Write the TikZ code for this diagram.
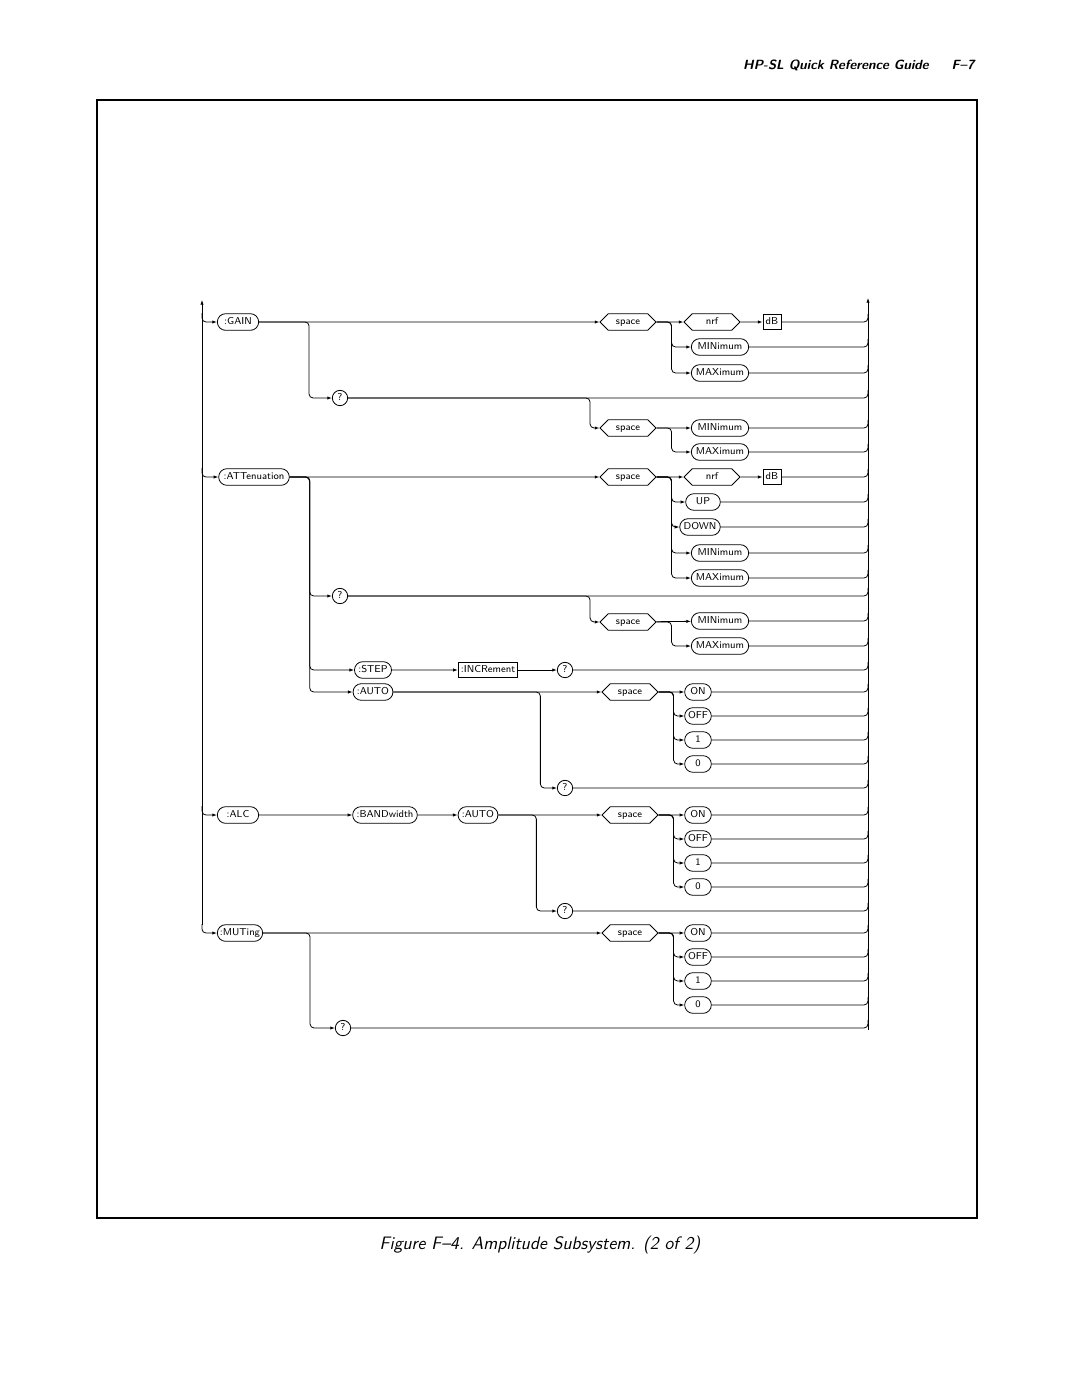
\documentclass[tikz,border=0pt]{standalone}
\usepackage{tikz}
\usetikzlibrary{arrows.meta, positioning, shapes.misc, shapes.symbols}

\begin{document}
\begin{tikzpicture}[x=0.75pt,y=-0.75pt,>={Latex[length=3.5pt,width=2.5pt]},
  font=\fontsize{7.5}{8}\sffamily]
\tikzstyle{every path}=[semithick]
\tikzstyle{every node}=[text height=5.2pt,text depth=1.3pt]
\tikzstyle{kw}=[rounded rectangle,draw,minimum height=12.5pt,inner sep=2pt]
\tikzstyle{sp}=[signal,signal to=west and east,draw,minimum height=12.5pt,
  minimum width=42pt,inner sep=2pt]
\tikzstyle{bx}=[rectangle,draw,minimum height=11.5pt,inner sep=2pt]
\tikzstyle{qm}=[circle,draw,inner sep=0.8pt,minimum size=11.5pt]
\tikzstyle{rc}=[rounded corners=3pt]

\useasboundingbox (0,0) rectangle (1080,1397);

%% Page frame and titles
\draw[line width=1pt] (97,100) rectangle (977,1218);
\node[font=\bfseries\itshape\fontsize{10}{11}\sffamily] (title) at (836,67) {HP-SL Quick Reference Guide};
\node[font=\bfseries\itshape\fontsize{10}{11}\sffamily] (page) at (963,67) {F--7};
\node[font=\itshape\fontsize{13.5}{15}\sffamily] (caption) at (540,1247) {Figure F--4. Amplitude Subsystem. (2 of 2)};

%% Rails
\coordinate (rr) at (868,0);
\coordinate (lr) at (202,0);
\draw[->] (202,925) -- (202,300);
\draw[->] (868,1030) -- (868,298);

%% :GAIN
\node[kw,minimum width=35pt] (gain) at (238,322) {:GAIN};
\node[sp] (gsp) at (628,322) {space};
\node[sp] (gnrf) at (712,322) {nrf};
\node[bx] (gdb) at (772,322) {dB};
\node[kw,minimum width=47pt] (gmin) at (720,347) {MINimum};
\node[kw,minimum width=47pt] (gmax) at (720,373) {MAXimum};
\node[qm] (gq) at (340,398) {?};
\node[sp] (gqsp) at (628,428) {space};
\node[kw,minimum width=47pt] (gqmin) at (720,428) {MINimum};
\node[kw,minimum width=47pt] (gqmax) at (720,452) {MAXimum};

%% :ATTenuation
\node[kw,minimum width=57pt] (att) at (254,477) {:ATTenuation};
\node[sp] (asp) at (628,477) {space};
\node[sp] (anrf) at (712,477) {nrf};
\node[bx] (adb) at (772,477) {dB};
\node[kw,minimum width=30pt] (aup) at (703,502) {UP};
\node[kw] (adown) at (700,527) {DOWN};
\node[kw,minimum width=47pt] (amin) at (720,553) {MINimum};
\node[kw,minimum width=47pt] (amax) at (720,578) {MAXimum};
\node[qm] (aq) at (340,596) {?};
\node[sp] (aqsp) at (628,622) {space};
\node[kw,minimum width=47pt] (aqmin) at (720,621) {MINimum};
\node[kw,minimum width=47pt] (aqmax) at (720,646) {MAXimum};
\node[kw] (step) at (373,670) {:STEP};
\node[bx] (incr) at (488,670) {:INCRement};
\node[qm] (sq) at (565,670) {?};
\node[kw] (auto) at (373,692) {:AUTO};
\node[sp] (ausp) at (630,692) {space};
\node[qm] (auq) at (565,788) {?};

%% :ALC
\node[kw,minimum width=35pt] (alc) at (238,815) {:ALC};
\node[kw] (band) at (385,815) {:BANDwidth};
\node[kw] (alauto) at (478,815) {:AUTO};
\node[sp] (alsp) at (630,815) {space};
\node[qm] (alq) at (565,911) {?};

%% :MUTing
\node[kw,minimum width=38pt] (mut) at (240,933) {:MUTing};
\node[sp] (msp) at (630,933) {space};
\node[qm] (mq) at (343,1028) {?};

%% ON/OFF/1/0 choices
\foreach \p/\y in {au/692,al/815,m/933}{
  \node[kw,minimum width=24pt] (\p on) at (698,\y) {ON};
  \node[kw,minimum width=24pt] (\p off) at (698,\y+24) {OFF};
  \node[kw,minimum width=24pt] (\p one) at (698,\y+48) {1};
  \node[kw,minimum width=24pt] (\p zero) at (698,\y+72) {0};
}

%% Entries from the left rail
\foreach \n in {gain,att,alc,mut}
  \draw[->,rc] (lr |- \n.west) ++(0,-9) |- (\n.west);

%% Straight links
\draw[->] (gain) -- (gsp);
\draw[->] (gsp) -- (gnrf);
\draw[->] (gnrf) -- (gdb);
\draw[->] (gqsp) -- (gqmin);
\draw[->] (att) -- (asp);
\draw[->] (asp) -- (anrf);
\draw[->] (anrf) -- (adb);
\draw[->] (aqsp) -- (aqmin);
\draw[->] (step) -- (incr);
\draw[->] (incr) -- (sq);
\draw[->] (auto) -- (ausp);
\draw[->] (ausp) -- (auon);
\draw[->] (alc) -- (band);
\draw[->] (band) -- (alauto);
\draw[->] (alauto) -- (alsp);
\draw[->] (alsp) -- (alon);
\draw[->] (mut) -- (msp);
\draw[->] (msp) -- (mon);

%% Branches
\draw[->,rc] (gain.east) -- ++(50,0) |- (gq.west);
\draw[->,rc] (gq.east) -- ++(242,0) |- (gqsp.west);
\foreach \t in {gmin,gmax} \draw[->,rc] (gsp.east) -- ++(15,0) |- (\t.west);
\draw[->,rc] (gqsp.east) -- ++(15,0) |- (gqmax.west);
\foreach \t in {aq,step,auto} \draw[->,rc] (att.east) -- ++(20,0) |- (\t.west);
\draw[->,rc] (aq.east) -- ++(242,0) |- (aqsp.west);
\foreach \t in {aup,adown,amin,amax} \draw[->,rc] (asp.east) -- ++(15,0) |- (\t.west);
\draw[->,rc] (aqsp.east) -- ++(15,0) |- (aqmax.west);
\draw[->,rc] (auto.east) -- ++(147,0) |- (auq.west);
\draw[->,rc] (alauto.east) -- ++(38,0) |- (alq.west);
\draw[->,rc] (mut.east) -- ++(47,0) |- (mq.west);
\foreach \p in {au,al,m}
  \foreach \t in {off,one,zero}
    \draw[->,rc] (\p sp.east) -- ++(15,0) |- (\p\t.west);

%% Exits to the right rail
\foreach \n in {gdb,gmin,gmax,gq,gqmin,gqmax,adb,aup,adown,amin,amax,aq,
  aqmin,aqmax,sq,auon,auoff,auone,auzero,auq,alon,aloff,alone,alzero,alq,
  mon,moff,mone,mzero,mq}
  \draw[rc] (\n.east) -- (\n.east -| rr) -- ++(0,-8);
\end{tikzpicture}
\end{document}
